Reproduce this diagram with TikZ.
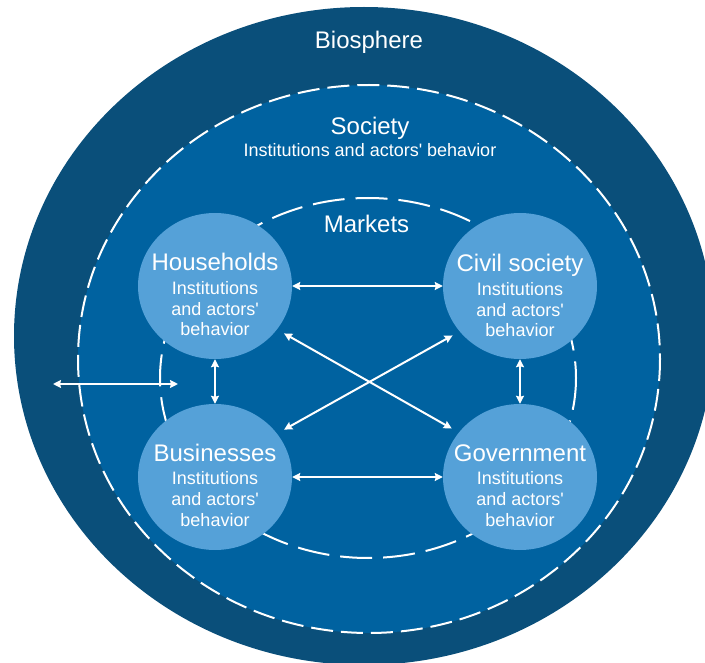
\documentclass[tikz,border=0pt]{standalone}
\usepackage{fontspec}
\newfontfamily\arialf{Liberation Sans}
\usetikzlibrary{shapes.geometric,arrows.meta}
\definecolor{bio}{HTML}{0A4F7A}
\definecolor{soc}{HTML}{0062A0}
\definecolor{bub}{HTML}{55A1D8}
\begin{document}
\begin{tikzpicture}[x=1pt,y=-1pt,
  bubble/.style={ellipse, fill=bub, minimum width=154pt, minimum height=146pt, inner sep=0pt},
  ttl/.style={text=white, font=\arialf\fontsize{24}{28}\selectfont, anchor=base, inner sep=0pt},
  subl/.style={text=white, font=\arialf\fontsize{18}{20.6}\selectfont, align=center, anchor=base, inner sep=0pt},
  tipS/.tip={Stealth[length=8pt,width=8pt,inset=1pt]},
  lnk/.style={white, line width=2pt, tipS-tipS},
  ringA/.style={white, line width=2pt, dash pattern=on 22pt off 8pt},
  ringB/.style={white, line width=2pt, dash pattern=on 32pt off 11pt}
]
\useasboundingbox[fill=white] (0,0) rectangle (705,663);
% biosphere
\fill[bio] (364,336) ellipse [x radius=350, y radius=329];
% society
\fill[soc] (369,359) ellipse [x radius=291, y radius=274];
\draw[ringA] (369,359) ellipse [x radius=291, y radius=274];
% markets
\draw[ringB] (368,378) ellipse [x radius=208, y radius=180];
% actors
\node[bubble] (HH) at (215,286) {};
\node[bubble] (CS) at (520,286) {};
\node[bubble] (BU) at (215,477) {};
\node[bubble] (GO) at (520,477) {};
% titles (multi-line nodes are anchored at the baseline of their last line)
\node[ttl] (bioT) at (369,49) {Biosphere};
\node[ttl] (socT) at (370,134.5) {Society};
\node[subl] (socS) at (370,157) {Institutions and actors' behavior};
\node[ttl] (mktT) at (366.5,232.5) {Markets};
\node[ttl] (HHh) at (215,271) {Households};
\node[subl] (HHs) at (215,336) {Institutions\\and actors'\\behavior};
\node[ttl] (CSh) at (520,272) {Civil society};
\node[subl] (CSs) at (520,337) {Institutions\\and actors'\\behavior};
\node[ttl] (BUh) at (215,461) {Businesses};
\node[subl] (BUs) at (215,526) {Institutions\\and actors'\\behavior};
\node[ttl] (GOh) at (520,461) {Government};
\node[subl] (GOs) at (520,526) {Institutions\\and actors'\\behavior};
% connectors
\draw[lnk] (HH.east) -- (CS.west);
\draw[lnk] (BU.east) -- (GO.west);
\draw[lnk] (HH.south) -- (BU.north);
\draw[lnk] (CS.south) -- (GO.north);
\draw[lnk, shorten <=8pt, shorten >=8pt] (HH.-35.8) -- (GO.144.2);
\draw[lnk, shorten <=8pt, shorten >=8pt] (BU.35.6) -- (CS.-143);
\coordinate (L1) at (53,384);
\coordinate (L2) at (178,384);
\draw[lnk] (L1) -- (L2);
\end{tikzpicture}
\end{document}
